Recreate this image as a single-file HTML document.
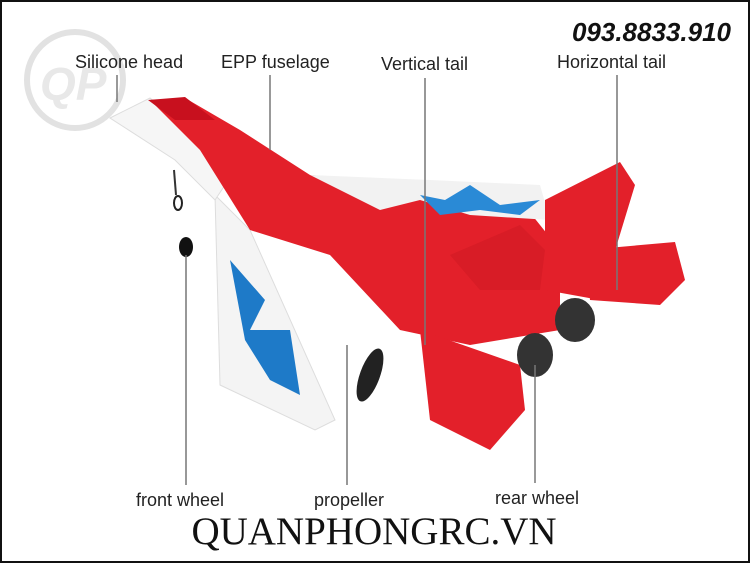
<!DOCTYPE html>
<html><head><meta charset="utf-8"><style>
html,body{margin:0;padding:0;background:#fff}
svg{display:block}
</style></head><body>
<svg width="750" height="563" viewBox="0 0 750 563" xmlns="http://www.w3.org/2000/svg" font-family="Liberation Sans, sans-serif">
<rect x="0" y="0" width="750" height="563" fill="#fff"/>
<rect x="1" y="1" width="748" height="561" fill="none" stroke="#111" stroke-width="2"/>
<circle cx="75" cy="80" r="48" fill="none" stroke="#e2e2e2" stroke-width="6"/>
<text x="40" y="100" font-size="46" font-weight="bold" fill="#e8e8e8" font-style="italic">QP</text>
<polygon points="215,195 250,230 335,420 315,430 220,385" fill="#f4f4f4" stroke="#ddd"/>
<polygon points="230,260 265,300 250,330 290,330 300,395 270,380 245,340" fill="#1e7ac8"/>
<polygon points="110,118 150,98 235,170 215,200 175,160" fill="#f6f6f6" stroke="#ddd"/>
<polygon points="150,100 185,98 240,130 310,175 430,185 520,200 560,250 560,330 470,345 400,330 330,255 250,230 200,150" fill="#e3202a"/>
<polygon points="310,175 430,180 540,185 550,220 470,215 420,200 380,210" fill="#f2f2f2"/>
<polygon points="420,195 445,200 470,185 500,205 540,200 520,215 480,210 440,215" fill="#2a8ad6"/>
<polygon points="148,100 185,97 215,120 175,120" fill="#c8101e"/>
<polygon points="545,200 620,162 635,185 600,300 545,290" fill="#e3202a"/>
<polygon points="450,255 520,225 545,250 540,290 480,290" fill="#d81c26"/>
<polygon points="585,250 675,242 685,280 660,305 590,300" fill="#e3202a"/>
<polygon points="420,330 520,365 525,410 490,450 430,420" fill="#e3202a"/>
<ellipse cx="575" cy="320" rx="20" ry="22" fill="#333"/>
<ellipse cx="535" cy="355" rx="18" ry="22" fill="#333"/>
<ellipse cx="370" cy="375" rx="10" ry="28" fill="#222" transform="rotate(20 370 375)"/>
<ellipse cx="178" cy="203" rx="4" ry="7" fill="none" stroke="#222" stroke-width="2"/>
<ellipse cx="186" cy="247" rx="7" ry="10" fill="#111"/>
<line x1="174" y1="170" x2="176" y2="195" stroke="#333" stroke-width="2"/>
<g stroke="#777" stroke-width="1.5">
<line x1="117" y1="75" x2="117" y2="102"/>
<line x1="270" y1="75" x2="270" y2="150"/>
<line x1="425" y1="78" x2="425" y2="345"/>
<line x1="617" y1="75" x2="617" y2="290"/>
<line x1="186" y1="255" x2="186" y2="485"/>
<line x1="347" y1="345" x2="347" y2="485"/>
<line x1="535" y1="365" x2="535" y2="483"/>
</g>
<g font-size="18" fill="#222">
<text x="75" y="68">Silicone head</text>
<text x="221" y="68">EPP fuselage</text>
<text x="381" y="70">Vertical tail</text>
<text x="557" y="68">Horizontal tail</text>
<text x="136" y="506">front wheel</text>
<text x="314" y="506">propeller</text>
<text x="495" y="504">rear wheel</text>
</g>
<text x="731" y="41" text-anchor="end" font-size="26" font-weight="bold" font-style="italic" fill="#111">093.8833.910</text>
<text x="374" y="544" text-anchor="middle" font-family="Liberation Serif, serif" font-size="39" fill="#111">QUANPHONGRC.VN</text>
</svg>
</body></html>
